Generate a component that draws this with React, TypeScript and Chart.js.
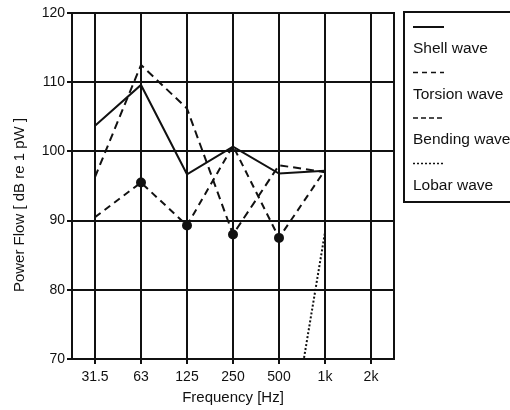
import React, { useEffect, useRef } from "react";
import { Chart, registerables } from "chart.js";

Chart.register(...registerables);

const categories = ["31.5", "63", "125", "250", "500", "1k", "2k"];
const shellWave = [103.7, 109.6, 96.7, 100.7, 96.8, 97.2, null];
const torsionWave = [96.3, 112.5, 106.2, 88.0, 98.0, 97.0, null];
const bendingWave = [90.5, 95.5, 89.3, 100.8, 87.5, 97.3, null];
const lobarWave = [null, null, null, null, 48.5, 88.3, null];
const torsionDots = [0, 0, 0, 4, 0, 0, 0];
const bendingDots = [0, 4, 4, 0, 4, 0, 0];
const yTicks = [70, 80, 90, 100, 110, 120];
const legendLabels = ["Shell wave", "Torsion wave", "Bending wave", "Lobar wave"];
const legendDashes: number[][] = [[], [5, 4], [5, 3], [2, 2]];
const yTitle = "Power Flow [ dB re 1 pW ]";
const xTitle = "Frequency [Hz]";

const FONT = "'Liberation Sans', Arial, sans-serif";
const INK = "#111";

const decorPlugin = {
  id: "decor",
  afterDraw(chart: any) {
    const ctx = chart.ctx;
    const a = chart.chartArea;
    ctx.save();
    // frame
    ctx.strokeStyle = INK;
    ctx.lineWidth = 2;
    ctx.strokeRect(a.left, a.top, a.right - a.left, a.bottom - a.top);
    // y title
    ctx.save();
    ctx.translate(20, 205);
    ctx.rotate(-Math.PI / 2);
    ctx.fillStyle = INK;
    ctx.font = `15px ${FONT}`;
    ctx.textAlign = "center";
    ctx.textBaseline = "middle";
    ctx.fillText(yTitle, 0, 0);
    ctx.restore();
    // legend box
    const bx = 404, by = 12, bh = 190;
    ctx.lineWidth = 2;
    ctx.strokeStyle = INK;
    ctx.strokeRect(bx, by, 120, bh);
    ctx.font = `15.5px ${FONT}`;
    ctx.fillStyle = INK;
    ctx.textAlign = "left";
    ctx.textBaseline = "middle";
    for (let i = 0; i < legendLabels.length; i++) {
      const sy = 27 + i * 45.5;
      ctx.beginPath();
      ctx.setLineDash(legendDashes[i]);
      ctx.lineWidth = legendDashes[i].length ? 1.5 : 2;
      ctx.moveTo(413, sy);
      ctx.lineTo(444, sy);
      ctx.stroke();
      ctx.setLineDash([]);
      ctx.fillText(legendLabels[i], 413, sy + 22);
    }
    ctx.restore();
  },
};

export default function App() {
  const ref = useRef<HTMLCanvasElement | null>(null);
  useEffect(() => {
    if (!ref.current) return;
    const chart = new Chart(ref.current, {
      type: "line",
      data: {
        labels: categories,
        datasets: [
          {
            label: "Shell wave",
            data: shellWave,
            borderColor: INK,
            borderWidth: 2,
            pointRadius: 0,
            fill: false,
            tension: 0,
          },
          {
            label: "Torsion wave",
            data: torsionWave,
            borderColor: INK,
            borderWidth: 2,
            borderDash: [8, 5],
            pointRadius: torsionDots,
            pointBackgroundColor: INK,
            pointBorderColor: INK,
            fill: false,
            tension: 0,
          },
          {
            label: "Bending wave",
            data: bendingWave,
            borderColor: INK,
            borderWidth: 2,
            borderDash: [7, 5],
            pointRadius: bendingDots,
            pointBackgroundColor: INK,
            pointBorderColor: INK,
            fill: false,
            tension: 0,
          },
          {
            label: "Lobar wave",
            data: lobarWave,
            borderColor: INK,
            borderWidth: 2,
            borderDash: [2, 2],
            pointRadius: 0,
            fill: false,
            tension: 0,
          },
        ],
      },
      options: {
        animation: false,
        responsive: false,
        maintainAspectRatio: false,
        layout: { padding: { top: 13, right: 116, left: 0, bottom: 0 } },
        plugins: { legend: { display: false }, tooltip: { enabled: false } },
        scales: {
          x: {
            type: "category",
            offset: true,
            grid: { offset: false, color: INK, lineWidth: 2, tickLength: 5 },
            border: { color: INK, width: 2 },
            ticks: { color: INK, font: { family: FONT, size: 14 }, padding: 5, maxRotation: 0 },
            title: {
              display: true,
              text: xTitle,
              color: INK,
              font: { family: FONT, size: 15 },
              padding: { top: 0, bottom: 3 },
            },
            afterFit(scale: any) {
              scale.height = 51;
            },
          },
          y: {
            min: 70,
            max: 120,
            afterBuildTicks(scale: any) {
              scale.ticks = yTicks.map((v) => ({ value: v }));
            },
            grid: { color: INK, lineWidth: 2, tickLength: 5 },
            border: { color: INK, width: 2 },
            ticks: { color: INK, font: { family: FONT, size: 14 }, padding: 2 },
            afterFit(scale: any) {
              scale.width = 72;
            },
          },
        },
      },
      plugins: [decorPlugin],
    } as any);
    return () => chart.destroy();
  }, []);
  return (
    <div style={{ position: "absolute", left: 0, top: 0, width: 510, height: 410, background: "#fff" }}>
      <canvas ref={ref} width={510} height={410} style={{ display: "block", width: 510, height: 410 }} />
    </div>
  );
}
